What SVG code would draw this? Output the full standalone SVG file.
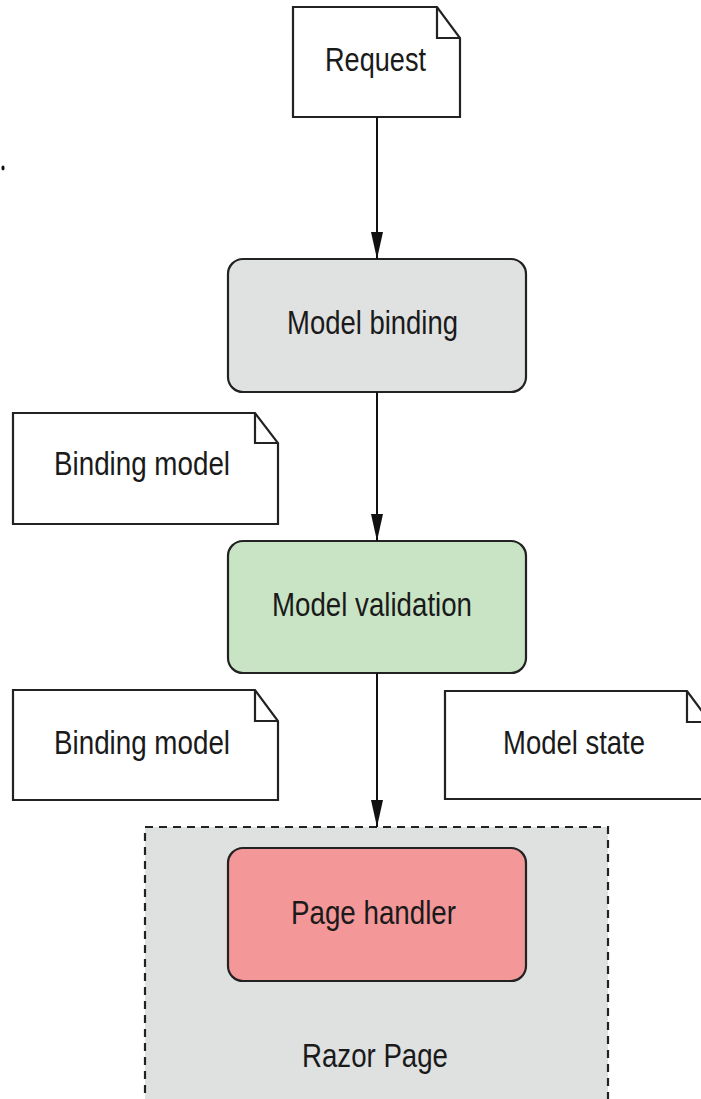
<svg xmlns="http://www.w3.org/2000/svg" width="701" height="1099" viewBox="0 0 701 1099">
<style>
.note{fill:#ffffff;stroke:#222;stroke-width:2.2;stroke-linejoin:miter}
.fold{fill:none;stroke:#222;stroke-width:2.2}
.box{stroke:#222;stroke-width:2.2}
.lbl{font-family:"Liberation Sans",Arial,sans-serif;font-size:34px;fill:#1a1a1a;text-anchor:middle}
.conn{stroke:#111;stroke-width:2;fill:none}
</style>
<defs>
<marker id="arrd" markerUnits="userSpaceOnUse" markerWidth="28" markerHeight="14" viewBox="0 0 28 14" refX="27" refY="7" orient="auto">
<path d="M0,1 L27,7 L0,13 Z" fill="#111"/>
</marker>
</defs>
<rect width="701" height="1099" fill="#ffffff"/>
<ellipse cx="3" cy="168" rx="1.6" ry="2.4" fill="#111"/>

<g id="razor-page">
<rect x="145" y="827" width="463" height="300" fill="#dfe0e0" stroke="#222" stroke-width="2.2" stroke-dasharray="8 6"/>
<text class="lbl" x="375" y="1067" textLength="146" lengthAdjust="spacingAndGlyphs">Razor Page</text>
</g>

<g id="request">
<path class="note" d="M293,7 H437 L460,38 V117 H293 Z"/>
<path class="fold" d="M437,7 V38 H460"/>
<text class="lbl" x="375.5" y="71" textLength="101" lengthAdjust="spacingAndGlyphs">Request</text>
</g>

<g id="model-binding">
<rect class="box" x="228" y="259" width="298" height="133" rx="15" fill="#e0e1e1"/>
<text class="lbl" x="372.5" y="334" textLength="171" lengthAdjust="spacingAndGlyphs">Model binding</text>
</g>

<g id="binding-model-1">
<path class="note" d="M13,413 H255 L278,443 V524 H13 Z"/>
<path class="fold" d="M255,413 V443 H278"/>
<text class="lbl" x="142" y="475" textLength="176" lengthAdjust="spacingAndGlyphs">Binding model</text>
</g>

<g id="model-validation">
<rect class="box" x="228" y="541" width="298" height="132" rx="15" fill="#c9e4c5"/>
<text class="lbl" x="372" y="616" textLength="200" lengthAdjust="spacingAndGlyphs">Model validation</text>
</g>

<g id="binding-model-2">
<path class="note" d="M13,690 H255 L278,721 V800 H13 Z"/>
<path class="fold" d="M255,690 V721 H278"/>
<text class="lbl" x="142" y="754" textLength="176" lengthAdjust="spacingAndGlyphs">Binding model</text>
</g>

<g id="model-state">
<path class="note" d="M445,691 H687 L710,722 V799 H445 Z"/>
<path class="fold" d="M687,691 V722 H710"/>
<text class="lbl" x="574" y="754" textLength="142" lengthAdjust="spacingAndGlyphs">Model state</text>
</g>

<g id="page-handler">
<rect class="box" x="228" y="848" width="298" height="133" rx="15" fill="#f39799"/>
<text class="lbl" x="373.5" y="924" textLength="165" lengthAdjust="spacingAndGlyphs">Page handler</text>
</g>

<g id="connectors">
<line class="conn" x1="377" y1="117" x2="377" y2="259" marker-end="url(#arrd)"/>
<line class="conn" x1="377" y1="392" x2="377" y2="541" marker-end="url(#arrd)"/>
<line class="conn" x1="377" y1="673" x2="377" y2="827" marker-end="url(#arrd)"/>
</g>
</svg>
